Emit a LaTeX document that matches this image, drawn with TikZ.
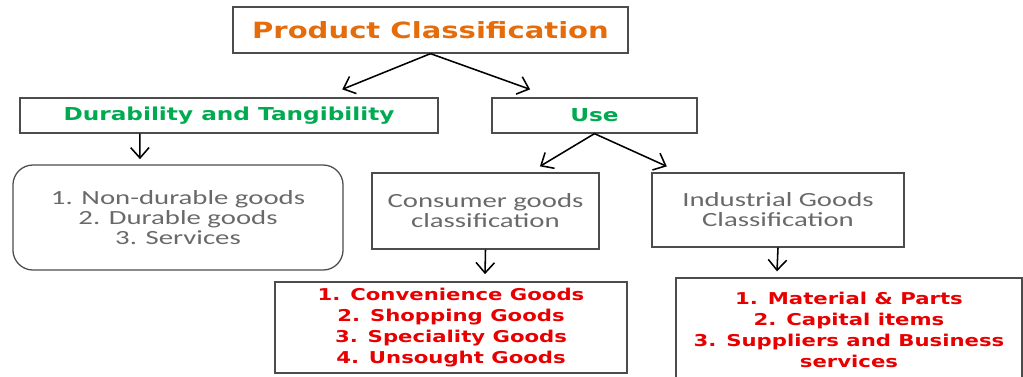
\documentclass[tikz,border=0pt]{standalone}
\usepackage{fontspec}
\usepackage{xcolor}
\usepackage{tikz}
\usetikzlibrary{arrows.meta}
\newfontfamily\headfont[FakeStretch=1.3]{DejaVu Sans}
\newfontfamily\plainfont[FakeStretch=1.43]{Carlito}
\definecolor{figorange}{RGB}{228,108,10}
\definecolor{figgreen}{RGB}{0,170,80}
\definecolor{figred}{RGB}{232,0,0}
\definecolor{figgray}{RGB}{105,105,105}
\tikzstyle{box} = [draw=black!70, line width=0.9pt, inner sep=0pt, align=center]
\tikzstyle{arrow} = [-{Straight Barb[length=2.6mm, width=4.6mm]}, line width=1.1pt]
\tikzstyle{headtext} = [font=\headfont\bfseries\fontsize{12.7}{15}\selectfont]
\tikzstyle{graytext} = [text=figgray, font=\plainfont\fontsize{14.3}{14.2}\selectfont]
\tikzstyle{redtext} = [text=figred, font=\headfont\bfseries\fontsize{11.6}{15}\selectfont]

\begin{document}
\begin{tikzpicture}[x=0.025cm, y=-0.025cm]
    \useasboundingbox (0,0) rectangle (1023,376);
    \clip (0,0) rectangle (1023,376);

    % top
    \node[box, minimum width=9.875cm, minimum height=1.15cm, text=figorange,
        font=\headfont\bfseries\fontsize{15.9}{19}\selectfont] (title) at (430.5,30)
        {Product Classification};

    % second row
    \node[box, headtext, text=figgreen, minimum width=10.45cm, minimum height=0.875cm]
        (dur) at (229,115.5) {Durability and Tangibility};
    \node[box, headtext, text=figgreen, minimum width=5.125cm, minimum height=0.875cm]
        (use) at (594.5,115.5) {Use};

    % durability branch
    \node[box, graytext, rounded corners=0.5cm, minimum width=8.25cm, minimum height=2.625cm]
        (goods) at (178,217.5)
        {1. Non-durable goods\\2. Durable goods\\3. Services};

    % use branch
    \node[box, graytext, minimum width=5.675cm, minimum height=1.9cm] (cons) at (485.5,211)
        {Consumer goods\\classification};
    \node[box, graytext, minimum width=6.3cm, minimum height=1.85cm] (ind) at (778,210)
        {Industrial Goods\\Classification};
    \node[box, redtext, minimum width=8.8cm, minimum height=2.275cm] (conslist) at (451,327.5)
        {1. Convenience Goods\\2. Shopping Goods\\3. Speciality Goods\\4. Unsought Goods};
    \node[box, redtext, minimum width=8.65cm, minimum height=2.6cm] (indlist) at (849,330)
        {1. Material \& Parts\\2. Capital items\\3. Suppliers and Business\\services};

    % connectors
    \draw[arrow] (title.south) -- ([xshift=2.83cm, yshift=0.2cm]dur.north);
    \draw[arrow] (title.south) -- ([xshift=-1.61cm, yshift=0.2cm]use.north);
    \draw[arrow] ([xshift=-2.23cm]dur.south) -- ([xshift=-0.95cm, yshift=0.13cm]goods.north);
    \draw[arrow] (use.south) -- ([xshift=1.36cm, yshift=0.15cm]cons.north);
    \draw[arrow] (use.south) -- ([xshift=-2.78cm, yshift=0.15cm]ind.north);
    \draw[arrow] (cons.south) -- ([xshift=0.85cm, yshift=0.18cm]conslist.north);
    \draw[arrow] (ind.south) -- ([xshift=-1.8cm, yshift=0.15cm]indlist.north);
\end{tikzpicture}
\end{document}
